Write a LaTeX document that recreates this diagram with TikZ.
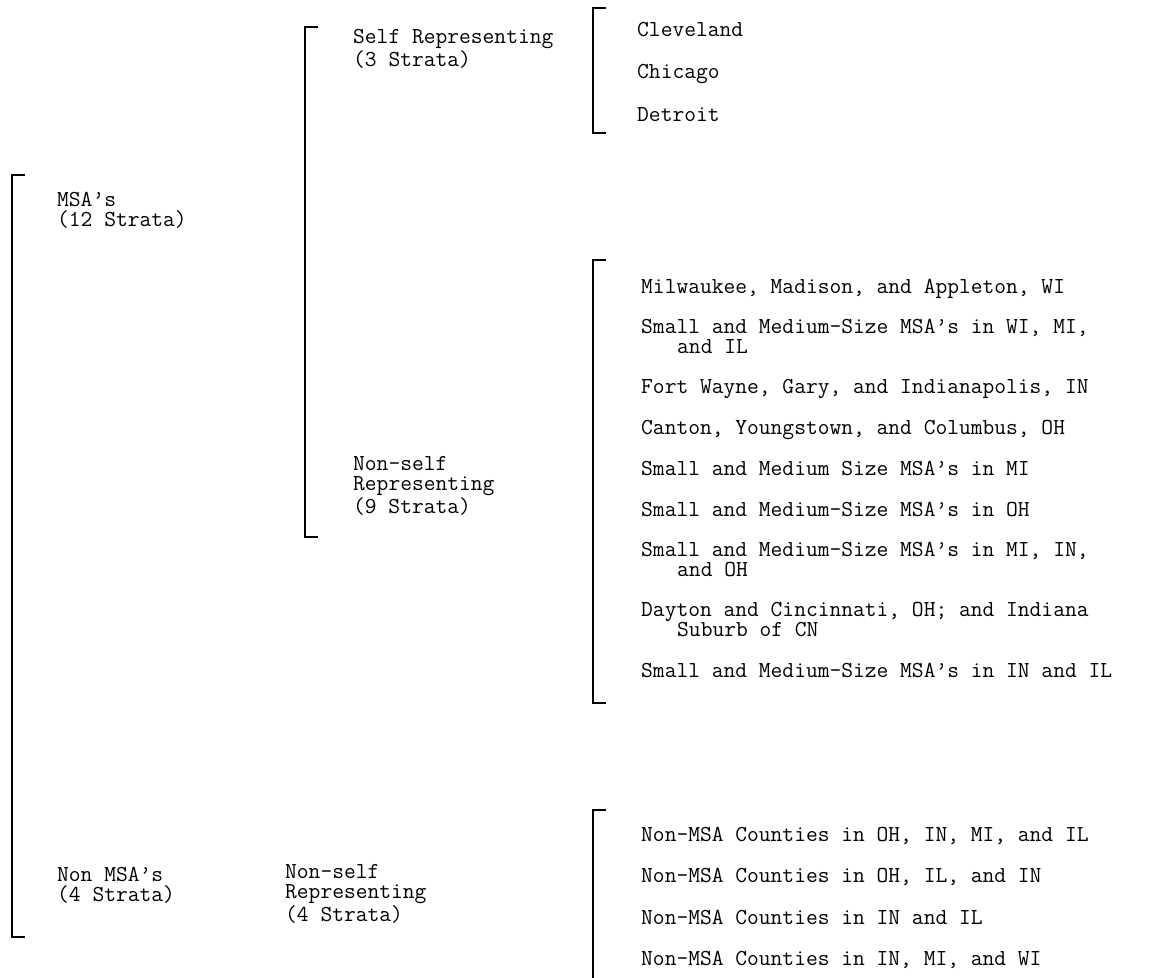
\documentclass[tikz,border=0pt]{standalone}
\usepackage{fontspec}
\usepackage{tikz}
\usetikzlibrary{positioning}
\tikzset{
    grp/.style={
           anchor=base west,
           inner sep=0pt,
           align=left,
           font=\fontsize{22.86}{20}\selectfont\ttfamily,
           },
    item/.style={grp},
    bracket/.style={
           draw=black, line width=1.4pt,
           },
}

\begin{document}
\begin{tikzpicture}[x=1pt,y=-1pt]
 \useasboundingbox (0,0) rectangle (1163,978);

 % corners of the brackets
 \coordinate (msaT) at (12,175);    \coordinate (msaB) at (12,937);
 \coordinate (srT)  at (305,27);    \coordinate (srB)  at (305,537);
 \coordinate (cityT) at (593,8);    \coordinate (cityB) at (593,133);
 \coordinate (nsrT) at (593,260);   \coordinate (nsrB) at (593,703);
 \coordinate (cntT) at (593,810);   \coordinate (cntB) at (593,978);

 % First level: MSA's / Non MSA's
 % (base of a two-line node is its last line)
 \node[grp] (MSA) at (57,226) {MSA’s\\(12 Strata)};
 \node[grp,
 below=675pt of MSA.base west,   % far down, next to the bracket end
 anchor=base west] (NonMSA)
 {Non MSA’s\\(4 Strata)};

 % Second level
 \node[grp] (SR) at (353,66) {Self Representing\\(3 Strata)};
 \node[grp,
 below=447pt of SR.base west,
 anchor=base west] (NSR)
 {Non-self\\Representing\\(9 Strata)};
 \node[grp,
 right=228pt of NonMSA.base west,
 anchor=base west,
 yshift=-20pt] (NSRfour)         % one line more than NonMSA
 {Non-self\\Representing\\(4 Strata)};

 % Self representing cities
 \node[item] (Cle) at (637,36) {Cleveland};
 \node[item, below=42pt of Cle.base west, anchor=base west] (Chi) {Chicago};
 \node[item, below=43pt of Chi.base west, anchor=base west] (Det) {Detroit};

 % Non-self representing MSA's
 \node[item] (Mil) at (641,293) {Milwaukee, Madison, and Appleton, WI};
 \node[item, below=60pt of Mil.base west, anchor=base west] (SmWI)
 {Small and Medium-Size MSA’s in WI, MI,\\\hspace*{36pt}and IL};
 \node[item, below=40pt of SmWI.base west, anchor=base west] (FtW)
 {Fort Wayne, Gary, and Indianapolis, IN};
 \node[item, below=41pt of FtW.base west, anchor=base west] (Can)
 {Canton, Youngstown, and Columbus, OH};
 \node[item, below=41pt of Can.base west, anchor=base west] (SmMI)
 {Small and Medium Size MSA’s in MI};
 \node[item, below=41pt of SmMI.base west, anchor=base west] (SmOH)
 {Small and Medium-Size MSA’s in OH};
 \node[item, below=60pt of SmOH.base west, anchor=base west] (SmMIN)
 {Small and Medium-Size MSA’s in MI, IN,\\\hspace*{36pt}and OH};
 \node[item, below=60pt of SmMIN.base west, anchor=base west] (Day)
 {Dayton and Cincinnati, OH; and Indiana\\\hspace*{36pt}Suburb of CN};
 \node[item, below=41pt of Day.base west, anchor=base west] (SmIN)
 {Small and Medium-Size MSA’s in IN and IL};

 % Non-MSA counties
 \node[item] (CoA) at (641,841) {Non-MSA Counties in OH, IN, MI, and IL};
 \node[item, below=41pt of CoA.base west, anchor=base west] (CoB)
 {Non-MSA Counties in OH, IL, and IN};
 \node[item, below=42pt of CoB.base west, anchor=base west] (CoC)
 {Non-MSA Counties in IN and IL};
 \node[item, below=41pt of CoC.base west, anchor=base west] (CoD)
 {Non-MSA Counties in IN, MI, and WI};

 % draw the brackets
 \draw[bracket] ([xshift=13pt]msaT) -- (msaT) -- (msaB) -- ([xshift=13pt]msaB);
 \draw[bracket] ([xshift=13pt]srT) -- (srT) -- (srB) -- ([xshift=13pt]srB);
 \draw[bracket] ([xshift=13pt]cityT) -- (cityT) -- (cityB) -- ([xshift=13pt]cityB);
 \draw[bracket] ([xshift=13pt]nsrT) -- (nsrT) -- (nsrB) -- ([xshift=13pt]nsrB);
 \draw[bracket] ([xshift=13pt]cntT) -- (cntT) -- (cntB);
\end{tikzpicture}
\end{document}
